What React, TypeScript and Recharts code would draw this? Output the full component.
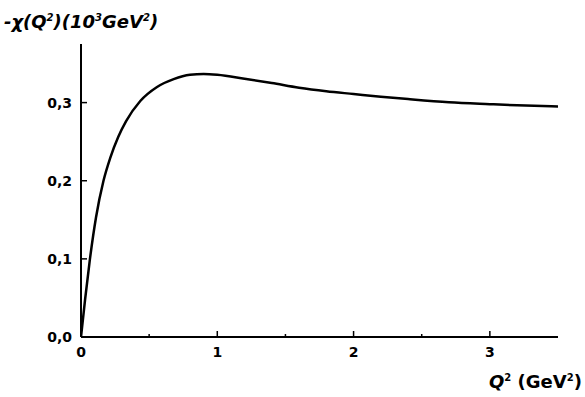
import React from "react"
import { LineChart, Line, XAxis, YAxis } from "recharts"

// values
const qValues = [0, 0.03, 0.065, 0.11, 0.165, 0.214, 0.273, 0.33, 0.435, 0.558, 0.68, 0.8, 0.9, 1.0, 1.2, 1.4, 1.6, 1.8, 2.0, 2.2, 2.4, 2.7, 3.0, 3.2, 3.5]
const chiValues = [0, 0.048, 0.099, 0.153, 0.2, 0.229, 0.256, 0.276, 0.302, 0.32, 0.33, 0.3355, 0.3365, 0.3355, 0.3305, 0.325, 0.319, 0.3145, 0.311, 0.3075, 0.3045, 0.3005, 0.298, 0.2965, 0.295]
const xTicks = [0, 0.5, 1, 1.5, 2, 2.5, 3]
const yTicks = [0, 0.1, 0.2, 0.3]

const data = qValues.map((q, i) => ({ q, chi: chiValues[i] }))

const FONT = "'DejaVu Sans', Verdana, sans-serif"

function XTick(props: any) {
  const { x, y, payload } = props
  const major = Number.isInteger(payload.value)
  return (
    <g>
      <line x1={x} x2={x} y1={y} y2={y - (major ? 6 : 3)} stroke="#000" strokeWidth={1.5} />
      {major && (
        <text x={x} y={y + 20} textAnchor="middle" fontFamily={FONT} fontWeight="bold" fontSize={14} fill="#000">
          {payload.value}
        </text>
      )}
    </g>
  )
}

function YTick(props: any) {
  const { x, y, payload } = props
  return (
    <g>
      <line x1={x} x2={x + 6} y1={y} y2={y} stroke="#000" strokeWidth={1.5} />
      <text x={x - 9} y={y + 5} textAnchor="end" fontFamily={FONT} fontWeight="bold" fontSize={14} fill="#000">
        {payload.value.toFixed(1).replace(".", ",")}
      </text>
    </g>
  )
}

export default function App() {
  return (
    <div style={{ position: "absolute", left: 0, top: 0, width: 585, height: 397, background: "#fff" }}>
      <LineChart width={585} height={397} data={data} margin={{ top: 44, right: 27, bottom: 30, left: 0 }}>
        <XAxis
          dataKey="q"
          type="number"
          domain={[0, 3.5]}
          ticks={xTicks}
          interval={0}
          height={30}
          tickSize={0}
          tickMargin={0}
          tickLine={false}
          tick={<XTick />}
          axisLine={{ stroke: "#000", strokeWidth: 2 }}
          allowDataOverflow
        />
        <YAxis
          type="number"
          domain={[0, 0.375]}
          ticks={yTicks}
          interval={0}
          width={81}
          tickSize={0}
          tickMargin={0}
          tickLine={false}
          tick={<YTick />}
          axisLine={{ stroke: "#000", strokeWidth: 2 }}
          allowDataOverflow
        />
        <Line
          type="monotone"
          dataKey="chi"
          stroke="#000"
          strokeWidth={2.5}
          dot={false}
          isAnimationActive={false}
        />
      </LineChart>
      <svg width={585} height={397} style={{ position: "absolute", left: 0, top: 0, pointerEvents: "none" }}>
        <text x={4} y={28} fontFamily={FONT} fontWeight="bold" fontStyle="italic" fontSize={18} fill="#000">
          -χ(Q<tspan fontSize={10} dy={-7}>2</tspan>
          <tspan dy={7}>)(10</tspan>
          <tspan fontSize={10} dy={-7}>3</tspan>
          <tspan dy={7}>GeV</tspan>
          <tspan fontSize={10} dy={-7}>2</tspan>
          <tspan dy={7}>)</tspan>
        </text>
        <text x={489} y={388} fontFamily={FONT} fontWeight="bold" fontSize={18} fill="#000">
          <tspan fontStyle="italic">Q</tspan>
          <tspan fontSize={10} dy={-7}>2</tspan>
          <tspan dy={7}> (GeV</tspan>
          <tspan fontSize={10} dy={-7}>2</tspan>
          <tspan dy={7}>)</tspan>
        </text>
      </svg>
    </div>
  )
}
